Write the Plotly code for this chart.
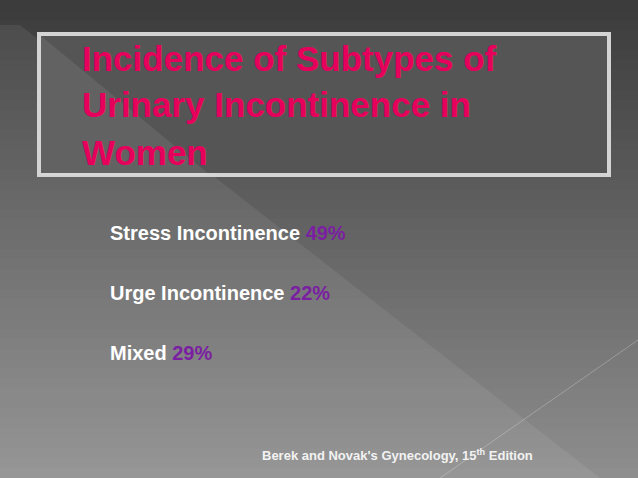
import plotly.graph_objects as go

title_lines = ["Incidence of Subtypes of", "Urinary Incontinence in", "Women"]
categories = ["Stress Incontinence", "Urge Incontinence", "Mixed"]
percents = [49, 22, 29]
source = "Berek and Novak's Gynecology, 15<sup>th</sup> Edition"

W, H = 638, 478
fig = go.Figure()
shapes = []
n = 48
for i in range(n):
    t = i / (n - 1)
    v = int(0x3c + (0x8e - 0x3c) * t)
    c = f"rgb({v},{v},{v})"
    shapes.append(dict(type="rect", x0=0, x1=W, y0=H * i / n, y1=H * (i + 1) / n + 1,
                       fillcolor=c, line=dict(width=0), layer="below"))
shapes.append(dict(type="path", path=f"M 20 25 L 600 {H} L 0 {H} L 0 25 Z",
                   fillcolor="rgba(255,255,255,0.07)", line=dict(width=0), layer="below"))
shapes.append(dict(type="line", x0=440, y0=H, x1=W, y1=340,
                   line=dict(color="rgba(255,255,255,0.25)", width=1)))
shapes.append(dict(type="rect", x0=39, y0=34, x1=609, y1=175,
                   fillcolor="#555555", line=dict(color="#d4d4d4", width=4)))
shapes.append(dict(type="path", path="M 41 36 L 210 175 L 41 175 Z",
                   fillcolor="rgba(255,255,255,0.08)", line=dict(width=0)))

ann = []
ys = [58, 104, 152]
for line, y in zip(title_lines, ys):
    ann.append(dict(x=80, y=y, text=f"<b>{line}</b>", showarrow=False, xanchor="left",
                    yanchor="middle", font=dict(family="Liberation Sans", size=35, color="#e6005c")))
for k, (cat, p) in enumerate(zip(categories, percents)):
    ann.append(dict(x=108, y=233 + 60 * k,
                    text=f"<b>{cat} <span style='color:#7b1fa2'>{p}%</span></b>",
                    showarrow=False, xanchor="left", yanchor="middle",
                    font=dict(family="Liberation Sans", size=20, color="white")))
ann.append(dict(x=260, y=455, text=f"<b>{source}</b>", showarrow=False, xanchor="left",
                yanchor="middle", font=dict(family="Liberation Sans", size=13, color="#f2f2f2")))

fig.update_layout(width=W, height=H, margin=dict(l=0, r=0, t=0, b=0),
                  paper_bgcolor="#555", plot_bgcolor="#555", shapes=shapes, annotations=ann,
                  xaxis=dict(range=[0, W], visible=False, fixedrange=True),
                  yaxis=dict(range=[H, 0], visible=False, fixedrange=True),
                  showlegend=False)
fig.write_html("out.html", config={"displayModeBar": False},
               post_script="document.body.style.margin='0';document.body.style.overflow='hidden';")
